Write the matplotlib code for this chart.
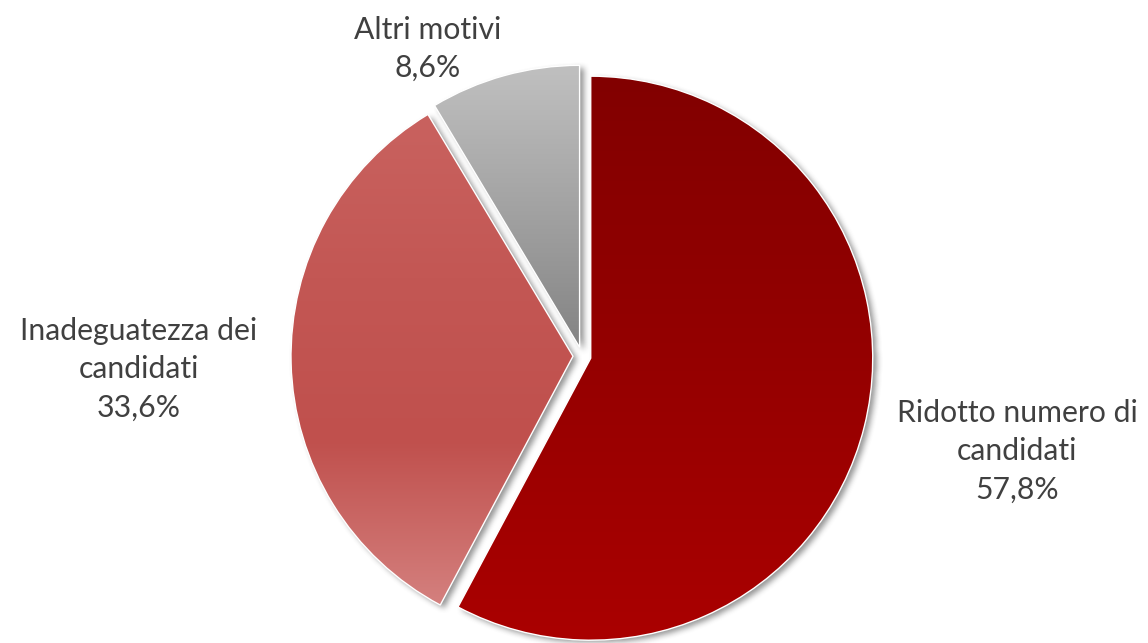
import numpy as np
import matplotlib
matplotlib.use("Agg")
import matplotlib.pyplot as plt
from matplotlib.colors import LinearSegmentedColormap

# ---- data ----
categories = ["Ridotto numero di\ncandidati", "Inadeguatezza dei\ncandidati", "Altri motivi"]
values = [57.8, 33.6, 8.6]
value_labels = ["57,8%", "33,6%", "8,6%"]

W, H = 1148, 643
fig = plt.figure(figsize=(W / 100, H / 100), dpi=100)
ax = fig.add_axes([0, 0, 1, 1])

cx, cy, R = 582, H - 356, 282
explode = [9, 9, 9]  # offsets in data (pixel) units

wedges, _ = ax.pie(values, startangle=90, counterclock=False, radius=R,
                   center=(cx, cy), explode=explode, frame=True,
                   wedgeprops=dict(edgecolor="white", linewidth=1.0),
                   colors=["#990000", "#C0504D", "#A0A0A0"])
ax.set_xlim(0, W)
ax.set_ylim(0, H)
ax.axis("off")

# ---- soft shadow from the wedge shapes ----
xs = np.arange(0, W) + 0.5
ys = np.arange(0, H) + 0.5
XX, YY = np.meshgrid(xs, ys)
pts = np.column_stack([XX.ravel(), YY.ravel()])
mask = np.zeros(XX.size, dtype=float)
for w in wedges:
    p = w.get_path().transformed(w.get_patch_transform())
    mask = np.maximum(mask, p.contains_points(pts).astype(float))
mask = mask.reshape(XX.shape)

def box_blur(a, r):
    k = np.ones(2 * r + 1) / (2 * r + 1)
    a = np.apply_along_axis(lambda m: np.convolve(m, k, mode="same"), 0, a)
    a = np.apply_along_axis(lambda m: np.convolve(m, k, mode="same"), 1, a)
    return a

sh = np.roll(np.roll(mask, 4, axis=1), -3, axis=0)
for _ in range(2):
    sh = box_blur(sh, 3)
shadow = np.zeros((H, W, 4))
shadow[..., 0:3] = 0.3
shadow[..., 3] = sh * 0.6
ax.imshow(shadow, extent=(0, W, 0, H), origin="lower", zorder=0.5,
          interpolation="bilinear")

# ---- gradient fills clipped to each wedge ----
grads = [
    ["#820000", "#950000", "#AA0000"],
    ["#C9625F", "#C35754", "#C0504D", "#D4807E"],
    ["#C0C0C0", "#ADADAD", "#999999", "#838383"],
]
for w, cols in zip(wedges, grads):
    cmap = LinearSegmentedColormap.from_list("g", cols)
    bb = w.get_path().transformed(w.get_patch_transform()).get_extents()
    grad = np.linspace(1, 0, 256).reshape(-1, 1)
    im = ax.imshow(grad, cmap=cmap, extent=(bb.x0, bb.x1, bb.y0, bb.y1),
                   origin="lower", aspect="auto", zorder=2,
                   interpolation="bilinear")
    im.set_clip_path(w)
    w.set_zorder(3)
    w.set_facecolor("none")

ax.set_xlim(0, W)
ax.set_ylim(0, H)

# ---- labels ----
tcol = "#404040"
font = dict(family=["Lato", "DejaVu Sans"], fontsize=21.7, color=tcol,
            ha="center", va="center", linespacing=1.45)
ax.text(1017, H - 451, categories[0] + "\n" + value_labels[0], **font)
ax.text(139, H - 369, categories[1] + "\n" + value_labels[1], **font)
ax.text(428, H - 49, categories[2] + "\n" + value_labels[2], **font)

fig.savefig("out.png", dpi=100)
